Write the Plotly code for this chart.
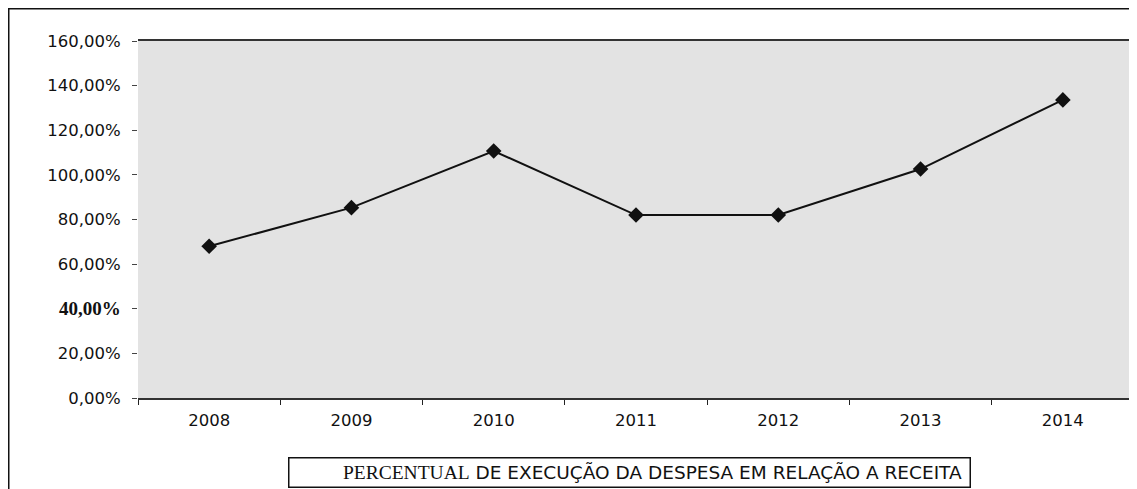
import plotly.graph_objects as go

years = ["2008", "2009", "2010", "2011", "2012", "2013", "2014"]
percent = [68.0, 85.3, 110.7, 82.0, 82.0, 102.6, 133.6]
y_ticks = [0, 20, 40, 60, 80, 100, 120, 140, 160]
y_tick_labels = ["0,00%", "20,00%",
                 '<b><span style="font-family:Liberation Serif;font-size:19px">40,00%</span></b>',
                 "60,00%", "80,00%", "100,00%", "120,00%", "140,00%", "160,00%"]
legend_serif = "PERCENTUAL"
legend_rest = " DE EXECUÇÃO DA DESPESA EM RELAÇÃO A RECEITA\u00a0"

# page body has an 8px margin; figure is sized so it ends at the window edge
W, H = 1129, 481
L, R, T, B = 130, 3, 33, 91
pw = W - L - R
ph = H - T - B

fig = go.Figure()
fig.add_trace(go.Scatter(
    x=years, y=percent, mode="lines+markers",
    line=dict(color="#111111", width=2),
    marker=dict(symbol="diamond", size=12, color="#111111"),
    showlegend=False,
))

fig.update_layout(
    width=W, height=H,
    margin=dict(l=L, r=R, t=T, b=B, autoexpand=False),
    paper_bgcolor="white",
    plot_bgcolor="#e3e3e3",
    font=dict(family="DejaVu Sans", size=16.5, color="#111111"),
    xaxis=dict(
        type="category", tickson="boundaries", ticks="outside", ticklen=5,
        tickcolor="#222222", showgrid=False, showline=True, linecolor="#333333",
        linewidth=1.5, mirror=True, tickfont=dict(size=16.5),
        range=[-0.5, 6.5], automargin=False, ticklabelstandoff=6,
    ),
    yaxis=dict(
        range=[0, 160], tickvals=y_ticks, ticktext=y_tick_labels,
        ticks="outside", ticklen=5, tickcolor="#444444", showgrid=False,
        showline=False, zeroline=False, tickfont=dict(size=16.5),
        automargin=False, ticklabelstandoff=8,
    ),
    shapes=[
        dict(type="line", xref="paper", yref="paper", x0=1, x1=1, y0=0, y1=1,
             line=dict(color="#333333", width=1.5)),
        dict(type="rect", xref="paper", yref="paper",
             x0=(0.75 - L) / pw, x1=1.02,
             y0=-0.3, y1=1 + (T - 0.75) / ph,
             line=dict(color="#111111", width=1.5), layer="below"),
    ],
    annotations=[
        dict(
            text='<span style="font-family:Liberation Serif;font-size:19.5px">' + legend_serif + '</span>' + legend_rest,
            xref="paper", yref="paper",
            x=(629 - 8 - L) / pw, y=(390 - 464.5) / ph,
            xanchor="center", yanchor="middle", showarrow=False,
            width=676, height=24, align="right", valign="middle",
            font=dict(size=18.5, family="DejaVu Sans", color="#111111"),
            bordercolor="#111111", borderwidth=1.5, borderpad=2,
            bgcolor="white",
        )
    ],
)

fig.write_html("out.html")
